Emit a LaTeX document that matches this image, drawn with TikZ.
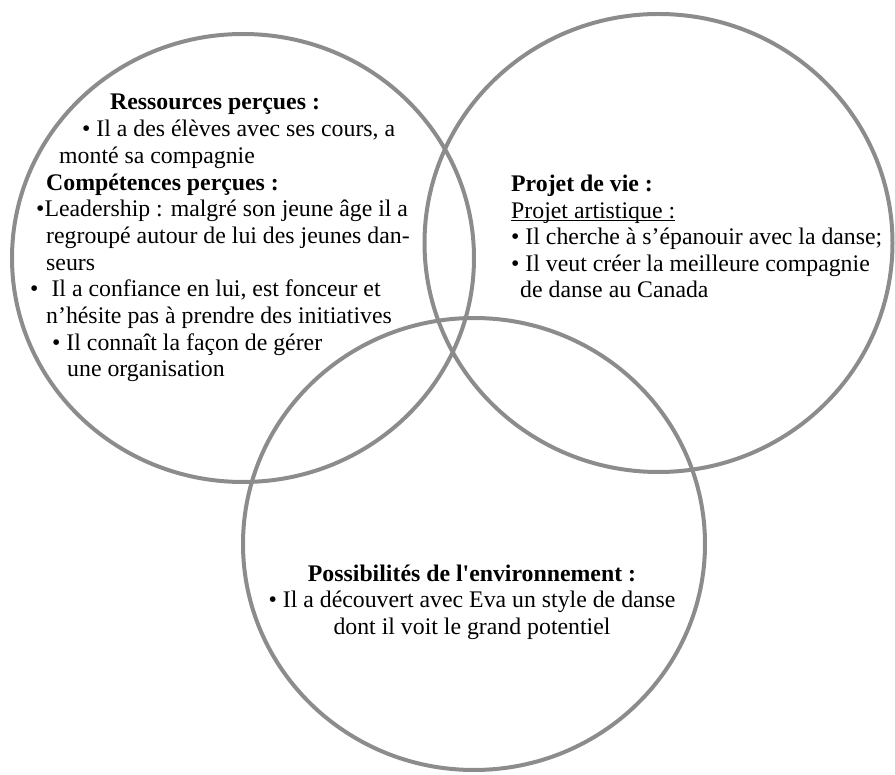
\documentclass[tikz,border=0pt]{standalone}
\usepackage{fontspec}
\setmainfont{Liberation Serif}
\usepackage{tikz}
\definecolor{ringgray}{RGB}{140,140,140}
\tikzset{
  ring/.style={draw=ringgray, line width=4pt},
  txt/.style={anchor=base west, inner sep=0pt, font=\fontsize{23.8}{26.7}\selectfont},
  hd/.style={txt, font=\fontsize{23.8}{26.7}\selectfont\bfseries},
  ctxt/.style={txt, anchor=base}
}

\begin{document}
\begin{tikzpicture}[x=1pt,y=-1pt]
\useasboundingbox (0,0) rectangle (895,775);
% the three rings
\draw[ring] (243,258) ellipse [x radius=231pt, y radius=224pt];
\draw[ring] (658.5,243) ellipse [x radius=234pt, y radius=229pt];
\draw[ring] (474,544) ellipse [x radius=231pt, y radius=226pt];
% left ring
\node[hd]  (res)   at (110,110)   {Ressources perçues :};
\node[txt] (res1)  at (82,136.7)  {• Il a des élèves avec ses cours, a};
\node[txt] (res2)  at (59,163.4)  {monté sa compagnie};
\node[hd]  (comp)  at (46,190.1)  {Compétences perçues :};
\node[txt] (comp1) at (36,216.8)  {•Leadership : malgré son jeune âge il a};
\node[txt] (comp2) at (46,243.5)  {regroupé autour de lui des jeunes dan-};
\node[txt] (comp3) at (46,270.2)  {seurs};
\node[txt] (comp4) at (30,296.9)  {•\hspace{13pt}Il a confiance en lui, est fonceur et};
\node[txt] (comp5) at (46,323.6)  {n’hésite pas à prendre des initiatives};
\node[txt] (comp6) at (52,350.3)  {• Il connaît la façon de gérer};
\node[txt] (comp7) at (67,377)    {une organisation};
% right ring
\node[hd]  (proj)  at (511,192)   {Projet de vie :};
\node[txt] (proj1) at (511,218.5) {\underline{\smash{Projet artistique :}}};
\node[txt] (proj2) at (511,245)   {• Il cherche à s’épanouir avec la danse;};
\node[txt] (proj3) at (511,271.5) {• Il veut créer la meilleure compagnie};
\node[txt] (proj4) at (520,298)   {de danse au Canada};
% bottom ring
\node[hd, anchor=base] (env)  at (472,581) {Possibilités de l\textquotesingle environnement :};
\node[ctxt] (env1) at (472,607.5) {• Il a découvert avec Eva un style de danse};
\node[ctxt] (env2) at (472,634)   {dont il voit le grand potentiel};
\end{tikzpicture}
\end{document}
